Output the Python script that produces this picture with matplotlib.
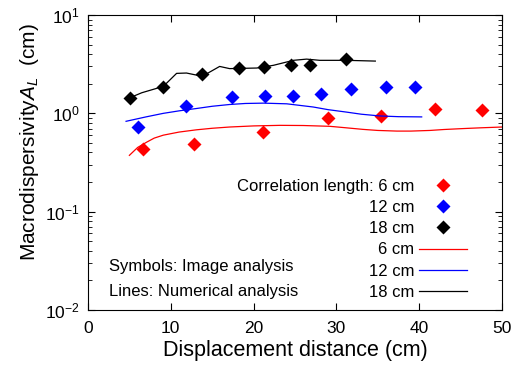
"""Macrodispersivity vs displacement distance, image vs numerical analysis."""

import matplotlib
matplotlib.use("Agg")
import matplotlib.pyplot as plt

plt.rcParams["font.family"] = ["Liberation Sans", "DejaVu Sans"]
plt.rcParams["mathtext.fontset"] = "custom"
plt.rcParams["mathtext.rm"] = "Liberation Sans"
plt.rcParams["mathtext.it"] = "Liberation Sans:italic"

# Image analysis (symbols)
x_img_6 = [6.6, 12.8, 21.1, 29.0, 35.4, 41.9, 47.6]
a_img_6 = [0.43, 0.49, 0.645, 0.90, 0.95, 1.12, 1.09]
x_img_12 = [6.0, 11.8, 17.4, 21.4, 24.7, 28.1, 31.8, 36.0, 39.5]
a_img_12 = [0.72, 1.20, 1.47, 1.50, 1.51, 1.56, 1.75, 1.87, 1.84]
x_img_18 = [5.1, 9.1, 13.8, 18.2, 21.2, 24.5, 26.8, 31.2]
a_img_18 = [1.43, 1.85, 2.49, 2.92, 2.96, 3.08, 3.08, 3.54]

# Numerical analysis (lines)
x_num_6 = [5.0, 6.0, 7.1, 8.0, 9.1, 11.0, 13.1, 15.0, 17.1, 20.0, 23.2, 26.0,
           29.2, 31.0, 33.2, 35.0, 37.3, 39.0, 41.3, 43.0, 45.3, 47.5, 50.0]
a_num_6 = [0.374, 0.45, 0.51, 0.56, 0.60, 0.645, 0.68, 0.705, 0.726, 0.745,
           0.755, 0.752, 0.738, 0.715, 0.687, 0.67, 0.66, 0.66, 0.67, 0.685,
           0.70, 0.713, 0.726]
x_num_12 = [4.6, 7.0, 9.1, 11.0, 13.1, 15.0, 17.1, 19.0, 21.2, 24.0, 27.2,
            29.0, 31.2, 33.0, 35.3, 37.5, 40.3]
a_num_12 = [0.83, 0.92, 1.0, 1.06, 1.12, 1.18, 1.23, 1.26, 1.27, 1.25, 1.16,
            1.09, 1.03, 0.98, 0.94, 0.925, 0.92]
x_num_18 = [4.7, 6.5, 9.1, 10.7, 11.9, 13.8, 15.9, 17.1, 20.4, 22.4, 24.8,
            26.4, 28.0, 31.2, 34.7]
a_num_18 = [1.40, 1.62, 1.88, 2.55, 2.57, 2.38, 3.0, 2.85, 2.89, 3.08, 3.46,
            3.56, 3.46, 3.46, 3.40]

fig = plt.figure(figsize=(5.2, 3.67), dpi=100)
ax = fig.add_axes([0.1692, 0.1553, 0.7962, 0.8038])

ms = 7
ax.plot(x_img_6, a_img_6, "D", color="#ff0000", mec="none", ms=ms,
        label="Correlation length: 6 cm")
ax.plot(x_img_12, a_img_12, "D", color="#0000ff", mec="none", ms=ms, label="12 cm")
ax.plot(x_img_18, a_img_18, "D", color="black", mec="none", ms=ms, label="18 cm")
ax.plot(x_num_6, a_num_6, "-", color="#ff0000", lw=0.9, label="6 cm")
ax.plot(x_num_12, a_num_12, "-", color="#0000ff", lw=0.9, label="12 cm")
ax.plot(x_num_18, a_num_18, "-", color="black", lw=0.9, label="18 cm")

ax.set_yscale("log")
ax.set_xlim(0, 50)
ax.set_ylim(1e-2, 1e1)
ax.set_xticks([0, 10, 20, 30, 40, 50])

ax.tick_params(which="both", direction="in", top=True, right=True, labelsize=12.5)
ax.tick_params(which="major", length=5, width=0.8)
ax.tick_params(which="minor", length=3, width=0.6)
ax.tick_params(axis="x", which="both", pad=8)
ax.tick_params(axis="y", which="both", pad=6)
ax.tick_params(axis="x", which="minor", bottom=False, top=False)

ax.set_xlabel("Displacement distance (cm)", fontsize=15.5, labelpad=3)
ax.set_ylabel("Macrodispersivity$A_L$  (cm)", fontsize=15, y=0.57, labelpad=3)

ax.legend(loc="lower right", bbox_to_anchor=(0.9155, 0.035), frameon=False,
          markerfirst=False, fontsize=12, handlelength=2.9, handletextpad=0.25,
          labelspacing=0.37, borderpad=0, borderaxespad=0, numpoints=1)

ax.text(0.0507, 0.147, "Symbols: Image analysis", transform=ax.transAxes,
        fontsize=12, va="center")
ax.text(0.0507, 0.062, "Lines: Numerical analysis", transform=ax.transAxes,
        fontsize=12, va="center")

fig.savefig("out.png", dpi=100)
